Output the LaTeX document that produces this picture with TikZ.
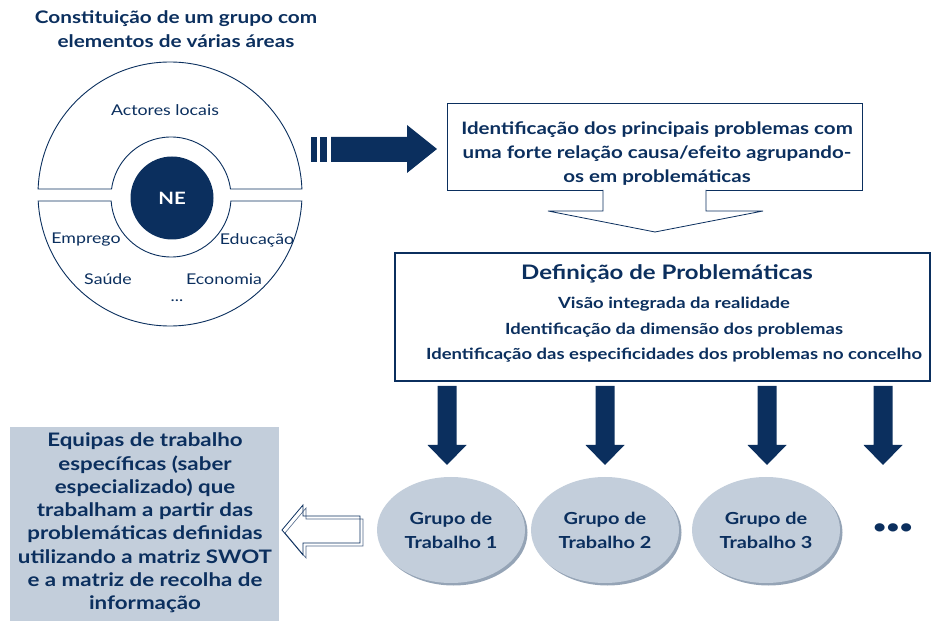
\documentclass[tikz,border=0pt]{standalone}
\usepackage{fontspec}
\setmainfont{Lato}[FakeStretch=1.2]
\usetikzlibrary{shapes.geometric,shadows,calc}
\definecolor{navy}{HTML}{0B2F5E}
\definecolor{lightbg}{HTML}{C3CEDB}
\definecolor{shade}{HTML}{8A9AAE}
\definecolor{backline}{HTML}{4F6688}
\begin{document}
\begin{tikzpicture}[x=1pt,y=1pt,
  txt/.style={text=navy,font=\fontsize{14.8}{24}\selectfont},
  btxt/.style={text=navy,font=\bfseries\fontsize{17.1}{24}\selectfont},
  boxa/.style={draw=navy,line width=0.8pt,fill=white},
  boxb/.style={draw=navy,line width=1.6pt,fill=white},
  grp/.style={ellipse,fill=lightbg,minimum width=148,minimum height=106,inner sep=0pt,
    drop shadow={shadow xshift=2.5pt,shadow yshift=-2.5pt,fill=shade,opacity=0.9},
    text=navy,align=center,font=\bfseries\fontsize{16.6}{24}\selectfont},
  ringline/.style={draw=navy,line width=0.9pt}
]
\useasboundingbox (0,0) rectangle (931,621);
% title
\node[btxt,align=center,font=\bfseries\fontsize{17.3}{24}\selectfont] (title) at (176,592) {Constituição de um grupo com\\elementos de várias áreas};
% outer circle pieces
\coordinate (O) at (170,427);
\coordinate (I) at (171,424);
\draw[ringline] ($(O)+(177.83:132)$) arc[start angle=177.83,end angle=2.17,radius=132]
  -- ($(I)+(7.66:60)$) arc[start angle=7.66,end angle=172.34,radius=60] -- cycle;
\draw[ringline] ($(O)+(183.04:132)$) arc[start angle=183.04,end angle=356.96,radius=132]
  -- ($(I)+(-3.82:60)$) arc[start angle=356.18,end angle=183.82,radius=60] -- cycle;
\node[circle,fill=navy,minimum size=83,inner sep=0pt,text=white,font=\bfseries\fontsize{17}{20}\selectfont] (ne) at (172,423) {NE};
\node[txt] (actores) at (165,511) {Actores locais};
\node[txt] (emprego) at (86,381) {Emprego};
\node[txt] (educacao) at (257,381) {Educação};
\node[txt] (saude) at (108,342) {Saúde};
\node[txt] (economia) at (224,342) {Economia};
\node[txt] (dots1) at (177,320) {...};
% dark arrow
\fill[navy] (311,459) rectangle (317,484);
\fill[navy] (320,459) rectangle (327,484);
\fill[navy] (331,459) -- (407,459) -- (407,448) -- (437,472) -- (407,496) -- (407,484) -- (331,484) -- cycle;
% box 1
\node[boxa,minimum width=415,minimum height=87,inner sep=0pt] (box1) at (654.5,474.5) {};
\node[btxt,align=center] (box1t) at (657,467) {Identificação dos principais problemas com\\uma forte relação causa/efeito agrupando-\\os em problemáticas};
% hollow down arrow
\fill[white] (603,431.8) -- (603,410) -- (548,410) -- (655,389) -- (763,410) -- (706,410) -- (706,431.8) -- cycle;
\draw[navy,line width=0.8pt] (603,431) -- (603,410) -- (548,410) -- (655,389) -- (763,410) -- (706,410) -- (706,431);
% box 2
\node[boxb,minimum width=535,minimum height=128,inner sep=0pt] (box2) at (662.5,304) {};
\node[text=navy,font=\bfseries\fontsize{20}{24}\selectfont] (box2h) at (667,347) {Definição de Problemáticas};
\node[btxt,align=center,font=\bfseries\fontsize{15.4}{25.5}\selectfont] (box2t) at (674,291) {Visão integrada da realidade\\Identificação da dimensão dos problemas\\Identificação das especificidades dos problemas no concelho};
% down arrows
\foreach \cx in {447,605,767,883}{
  \fill[navy] (\cx-9.5,235) -- (\cx+9.5,235) -- (\cx+9.5,176) -- (\cx+19.5,176) -- (\cx,156) -- (\cx-19.5,176) -- (\cx-9.5,176) -- cycle;
}
% groups
\node[grp] (g1) at (451,91) {Grupo de\\Trabalho 1};
\node[grp] (g2) at (605,91) {Grupo de\\Trabalho 2};
\node[grp] (g3) at (766,91) {Grupo de\\Trabalho 3};
\node[text=navy,font=\bfseries\fontsize{19}{24}\selectfont] (gdots) at (893,92) {•••};
% left box
\fill[lightbg] (10,0) rectangle (279,194);
\node[btxt,align=center,font=\bfseries\fontsize{18.6}{23.3}\selectfont] (lbox) at (145,98) {Equipas de trabalho\\específicas (saber\\especializado) que\\trabalham a partir das\\problemáticas definidas\\utilizando a matriz SWOT\\e a matriz de recolha de\\informação};
% hollow left arrow (double outline)
\draw[backline,line width=0.6pt,fill=white] (285,88) -- (306,113) -- (306,102) -- (363,102) -- (363,75) -- (306,75) -- (306,63) -- cycle;
\draw[navy,line width=0.8pt] (282,91) -- (303,116) -- (303,105) -- (360,105) -- (360,78) -- (303,78) -- (303,66) -- cycle;
\end{tikzpicture}
\end{document}
